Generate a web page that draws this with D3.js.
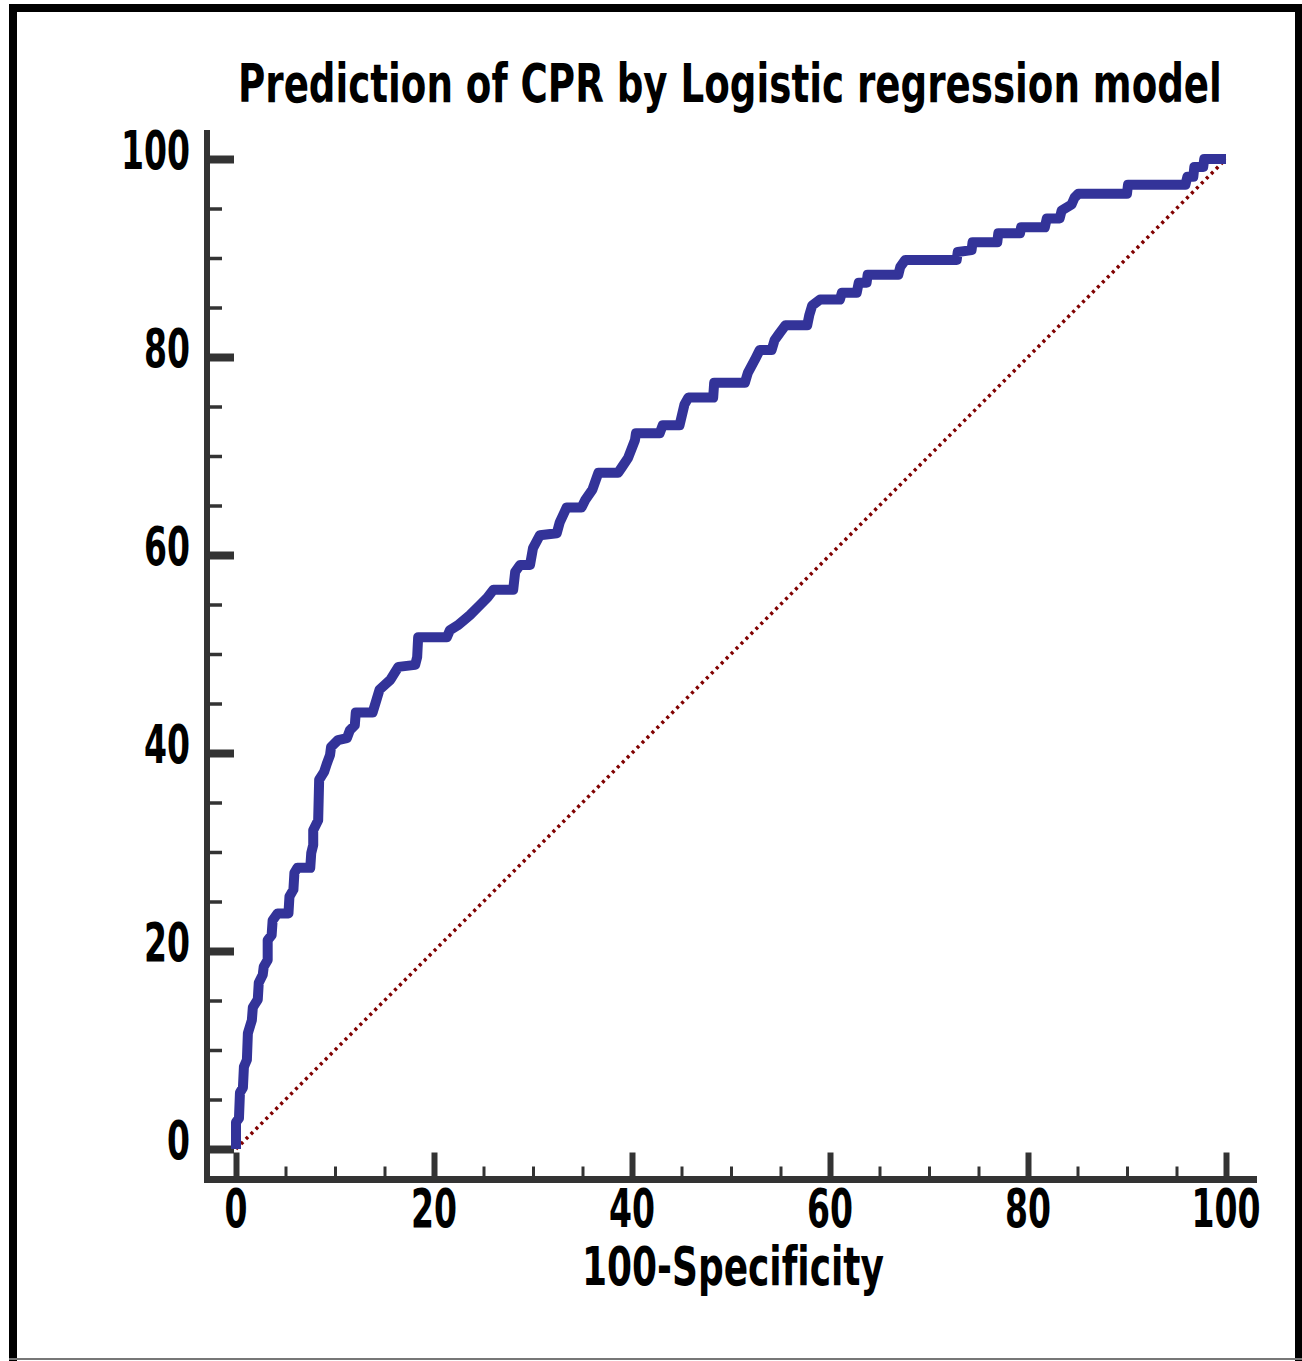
<!DOCTYPE html>
<html>
<head>
<meta charset="utf-8">
<script src="https://d3js.org/d3.v7.min.js"></script>
<style>
  body { margin: 0; background: #fff; }
  text { font-family: "Liberation Sans Narrow", "Arial Narrow", "DejaVu Sans Condensed", sans-serif; font-weight: bold; fill: #000; font-variant-ligatures: none; }
</style>
</head>
<body>
<div id="chart"></div>
<script>
// ROC curve points (100-Specificity, Sensitivity)
var fpr = [0, 0, 0.3, 0.4, 0.7, 0.8, 1.1, 1.2, 1.6, 1.7, 2.2, 2.3, 2.7, 2.8, 3.2, 3.2, 3.6, 3.7, 4.2, 5.3,
  5.4, 5.8, 5.9, 6.2, 7.5, 7.6, 7.8, 7.8, 8.3, 8.4, 8.9, 9.2, 9.5, 9.6, 10.3, 11.2, 11.5, 12.0, 12.1, 13.8,
  14.2, 14.5, 15.6, 16.4, 18.1, 18.3, 18.4, 21.3, 21.6, 22.4, 23.6, 24.6, 25.4, 26.0, 28.0, 28.2, 28.7, 29.7, 30.0, 30.7,
  32.4, 32.7, 33.4, 34.9, 35.3, 36.0, 36.6, 38.6, 39.0, 39.6, 40.3, 40.4, 42.8, 43.1, 44.8, 45.3, 45.7, 48.2, 48.3, 51.4,
  51.7, 52.4, 52.9, 54.1, 54.4, 54.9, 55.5, 57.7, 57.9, 58.2, 59.0, 61.0, 61.2, 62.7, 62.9, 63.7, 63.8, 66.9, 67.1, 67.6,
  72.8, 72.9, 74.3, 74.4, 76.9, 77.0, 79.2, 79.3, 81.7, 81.9, 83.2, 83.4, 84.4, 84.7, 85.1, 90.0, 90.1, 95.9, 96.1, 96.7,
  96.8, 97.7, 97.8, 100];
var tpr = [0, 2.7, 3.1, 5.7, 6.2, 8.3, 9.0, 11.7, 13.0, 14.3, 15.1, 16.8, 17.6, 18.4, 19.1, 21.1, 21.6, 23.1, 23.8, 23.8,
  25.5, 26.2, 27.9, 28.4, 28.4, 29.9, 30.7, 32.2, 33.2, 37.3, 38.1, 39.0, 39.8, 40.6, 41.3, 41.5, 42.3, 42.8, 44.1, 44.1,
  45.4, 46.4, 47.4, 48.7, 48.9, 49.7, 51.7, 51.7, 52.4, 52.9, 53.9, 54.9, 55.7, 56.5, 56.5, 58.3, 59.0, 59.0, 60.7, 62.0,
  62.2, 63.3, 64.8, 64.8, 65.6, 66.6, 68.3, 68.3, 68.9, 69.8, 71.6, 72.3, 72.3, 73.1, 73.1, 75.2, 75.9, 75.9, 77.4, 77.4,
  78.4, 79.7, 80.7, 80.7, 81.7, 82.4, 83.2, 83.2, 84.2, 85.2, 85.8, 85.8, 86.5, 86.5, 87.5, 87.5, 88.3, 88.3, 89.1, 89.8,
  89.8, 90.6, 90.8, 91.6, 91.6, 92.5, 92.5, 93.1, 93.1, 94.0, 94.0, 94.8, 95.4, 96.1, 96.5, 96.5, 97.4, 97.4, 98.2, 98.2,
  99.2, 99.2, 100, 100];

var majorTicks = [0, 20, 40, 60, 80, 100];
var minorTicks = [5, 10, 15, 25, 30, 35, 45, 50, 55, 65, 70, 75, 85, 90, 95];
var titleText = "Prediction of CPR by Logistic regression model";
var xLabel = "100-Specificity";

var W = 1302, H = 1361;
var svg = d3.select("#chart").append("svg")
    .attr("width", W)
    .attr("height", H);

// squeeze a text horizontally so it spans `width` px, starting at x (or centred / right aligned)
function fitText(sel, x, y, width, anchor) {
  sel.each(function() {
    var len = this.getComputedTextLength();
    var k = width / len;
    var x0 = anchor === "middle" ? x - width / 2 : anchor === "end" ? x - width : x;
    d3.select(this)
      .attr("text-anchor", "start")
      .attr("x", 0).attr("y", 0)
      .attr("transform", "translate(" + x0 + "," + y + ") scale(" + k + ",1)");
  });
}

// picture frame
svg.append("line").attr("x1", 9).attr("x2", 1302).attr("y1", 8).attr("y2", 8)
    .attr("stroke", "#000").attr("stroke-width", 8);
svg.append("line").attr("x1", 13).attr("x2", 13).attr("y1", 4).attr("y2", 1361)
    .attr("stroke", "#000").attr("stroke-width", 8);
svg.append("line").attr("x1", 1298.5).attr("x2", 1298.5).attr("y1", 4).attr("y2", 1361)
    .attr("stroke", "#000").attr("stroke-width", 7);
svg.append("line").attr("x1", 9).attr("x2", 1302).attr("y1", 1359).attr("y2", 1359)
    .attr("stroke", "#777").attr("stroke-width", 2);

var x = d3.scaleLinear().domain([0, 100]).range([236, 1226]);
var y = d3.scaleLinear().domain([0, 100]).range([1149, 159]);

var axisColor = "#333";

// axis lines
svg.append("line").attr("x1", 207).attr("x2", 207).attr("y1", 130).attr("y2", 1183)
    .attr("stroke", axisColor).attr("stroke-width", 6);
svg.append("line").attr("x1", 204).attr("x2", 1257).attr("y1", 1179.5).attr("y2", 1179.5)
    .attr("stroke", axisColor).attr("stroke-width", 7);

// y axis: minor ticks
svg.append("g")
    .attr("transform", "translate(207,0)")
    .call(d3.axisLeft(y).tickValues(minorTicks).tickSizeInner(-15).tickSizeOuter(0).tickFormat(""))
    .call(g => g.select(".domain").remove())
    .call(g => g.selectAll("line").attr("stroke", axisColor).attr("stroke-width", 3.5));

// y axis: major ticks
svg.append("g")
    .attr("transform", "translate(207,0)")
    .call(d3.axisLeft(y).tickValues(majorTicks).tickSizeInner(-27).tickSizeOuter(0).tickFormat(""))
    .call(g => g.select(".domain").remove())
    .call(g => g.selectAll("line").attr("stroke", axisColor).attr("stroke-width", 8));

// y tick labels
svg.append("g")
    .selectAll("text")
    .data(majorTicks)
    .join("text")
    .attr("font-size", 54)
    .text(d => d)
    .each(function(d) { fitText(d3.select(this), 190, y(d) + 10, String(d).length * 23, "end"); });

// x axis: minor ticks
svg.append("g")
    .attr("transform", "translate(0,1179.5)")
    .call(d3.axisTop(x).tickValues(minorTicks).tickSizeInner(13).tickSizeOuter(0).tickFormat(""))
    .call(g => g.select(".domain").remove())
    .call(g => g.selectAll("line").attr("stroke", axisColor).attr("stroke-width", 3));

// x axis: major ticks
svg.append("g")
    .attr("transform", "translate(0,1179.5)")
    .call(d3.axisTop(x).tickValues(majorTicks).tickSizeInner(27).tickSizeOuter(0).tickFormat(""))
    .call(g => g.select(".domain").remove())
    .call(g => g.selectAll("line").attr("stroke", axisColor).attr("stroke-width", 6));

// x tick labels
svg.append("g")
    .selectAll("text")
    .data(majorTicks)
    .join("text")
    .attr("font-size", 54)
    .text(d => d)
    .each(function(d) { fitText(d3.select(this), x(d), 1227, String(d).length * 23, "middle"); });

// reference diagonal
svg.append("line")
    .attr("x1", x(0)).attr("y1", y(0))
    .attr("x2", x(100)).attr("y2", y(100))
    .attr("stroke", "#800000")
    .attr("stroke-width", 3.5)
    .attr("stroke-dasharray", "3 4");

// ROC curve
var pts = fpr.map((v, i) => [v, tpr[i]]);
svg.append("path")
    .datum(pts)
    .attr("fill", "none")
    .attr("stroke", "#333399")
    .attr("stroke-width", 10)
    .attr("stroke-linejoin", "round")
    .attr("stroke-linecap", "butt")
    .attr("d", d3.line().x(d => x(d[0])).y(d => y(d[1])));

// title
svg.append("text")
    .attr("font-size", 54)
    .text(titleText)
    .call(fitText, 238, 102, 984, "start");

// x axis label
svg.append("text")
    .attr("font-size", 54)
    .text(xLabel)
    .call(fitText, 582, 1285, 302, "start");
</script>
</body>
</html>
